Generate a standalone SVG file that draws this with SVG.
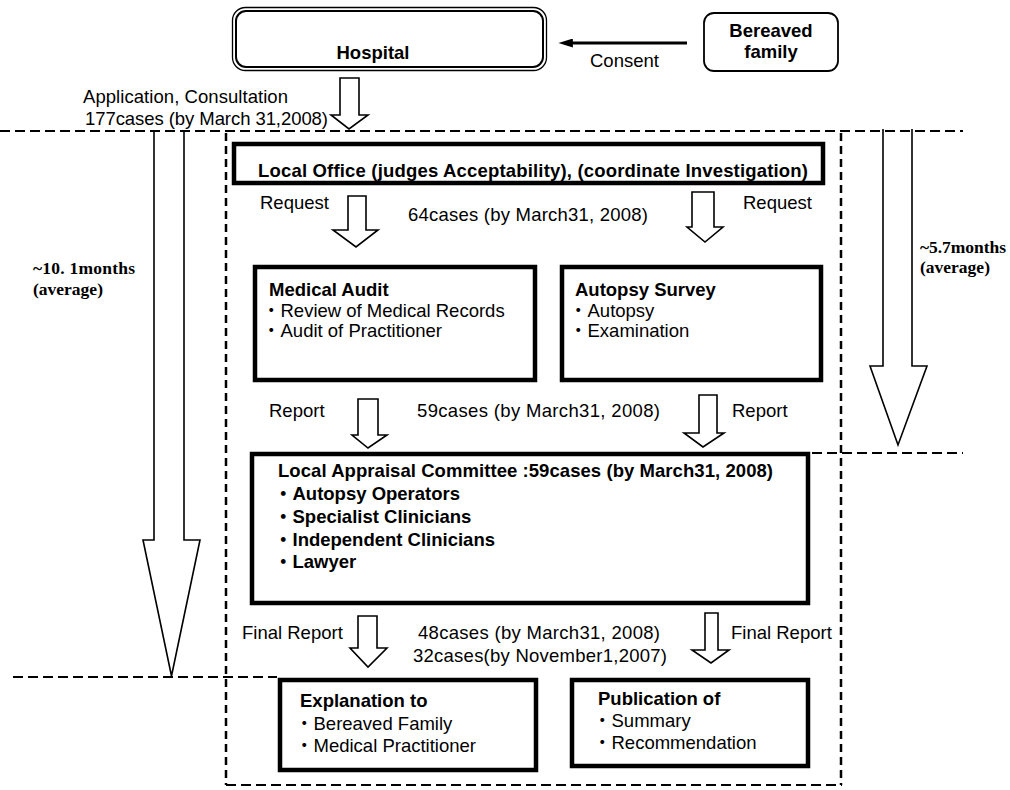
<svg xmlns="http://www.w3.org/2000/svg" width="1010" height="790" viewBox="0 0 1010 790">
  <defs>
    <marker id="head-left" viewBox="0 0 16 10" refX="1" refY="5" markerWidth="16" markerHeight="9" markerUnits="userSpaceOnUse" orient="auto">
      <path d="M16,5 L0,0 L0,10 Z" fill="#000"/>
    </marker>
    <style>
      .t { font-family: "Liberation Sans", "Noto Sans CJK JP", Arial, sans-serif; font-size: 18.5px; fill: #000; }
      .b { font-weight: bold; }
      .serif { font-family: "Liberation Serif", "Times New Roman", serif; font-size: 17.5px; font-weight: bold; fill: #000; }
      .box { fill: #fff; stroke: #000; stroke-width: 4.5; }
      .rbox { fill: #fff; stroke: #000; stroke-width: 1.8; }
      .hollow { fill: #fff; stroke: #000; stroke-width: 1.6; stroke-linejoin: miter; }
      .dash-h { fill: none; stroke: #000; stroke-width: 2; stroke-dasharray: 10 5; }
      .dash-v { fill: none; stroke: #000; stroke-width: 2.5; stroke-dasharray: 8 5; }
    </style>
  </defs>

  <rect width="1010" height="790" fill="#fff"/>

  <!-- connectors: block arrows, consent arrow, dashed frames -->
  <g id="connectors">
    <!-- time-span arrows -->
    <path class="hollow" d="M154,131 V540 H143 L171.5,676 L200,540 H184 V131"/>
    <path class="hollow" d="M883,129 V366 H870 L898,445 L927,366 H912 V129"/>

    <!-- dashed guide lines and frame -->
    <line class="dash-h" x1="0" y1="131" x2="963" y2="131"/>
    <line class="dash-h" x1="812" y1="453" x2="963" y2="453"/>
    <line class="dash-h" x1="13" y1="677" x2="277" y2="677"/>
    <line class="dash-v" x1="226" y1="133" x2="226" y2="785"/>
    <line class="dash-v" x1="841" y1="133" x2="841" y2="785"/>
    <line class="dash-h" x1="226" y1="785" x2="842" y2="785"/>

    <!-- consent -->
    <line x1="687" y1="43" x2="572" y2="43" stroke="#000" stroke-width="2.8" marker-end="url(#head-left)"/>

    <!-- flow arrows -->
    <path class="hollow" d="M340,78 H359 V115 H368 L349,129 L331,115 H340 Z"/>
    <path class="hollow" d="M348,196 H366 V230 H378 L356,247 L333,230 H348 Z"/>
    <path class="hollow" d="M692,192 H714 V227 H723 L705,242 L687,227 H692 Z"/>
    <path class="hollow" d="M358,399 H378 V435 H387 L368,448 L352,435 H358 Z"/>
    <path class="hollow" d="M699,395 H717 V433 H724 L703,447 L684,433 H699 Z"/>
    <path class="hollow" d="M358,616 H377 V648 H387 L368,667 L350,648 H358 Z"/>
    <path class="hollow" d="M705,613 H718 V650 H729 L711,663 L692,650 H705 Z"/>

    <!-- arrow labels -->
    <text class="t" x="590" y="67">Consent</text>
    <text class="t" x="83" y="103" textLength="205">Application, Consultation</text>
    <text class="t" x="85" y="125" textLength="243">177cases (by March 31,2008)</text>
    <text class="t" x="260" y="209">Request</text>
    <text class="t" x="743" y="209">Request</text>
    <text class="t" x="408" y="221" textLength="240">64cases (by March31, 2008)</text>
    <text class="t" x="269" y="417">Report</text>
    <text class="t" x="417" y="417" textLength="243">59cases (by March31, 2008)</text>
    <text class="t" x="732" y="417">Report</text>
    <text class="t" x="242" y="639">Final Report</text>
    <text class="t" x="418" y="639" textLength="242">48cases (by March31, 2008)</text>
    <text class="t" x="413" y="662" textLength="254">32cases(by November1,2007)</text>
    <text class="t" x="731" y="639">Final Report</text>

    <!-- durations -->
    <text class="serif" x="33" y="274" textLength="102">~10. 1months</text>
    <text class="serif" x="33" y="295">(average)</text>
    <text class="serif" x="920" y="253" textLength="86">~5.7months</text>
    <text class="serif" x="920" y="273">(average)</text>
  </g>

  <g id="hospital">
    <rect x="232.5" y="7.5" width="314" height="63" rx="13" fill="#fff" stroke="#000" stroke-width="1.3"/>
    <rect x="236" y="11" width="307" height="56" rx="10" fill="none" stroke="#000" stroke-width="2"/>
    <text class="t b" x="373" y="59" text-anchor="middle">Hospital</text>
  </g>

  <g id="bereaved-family">
    <rect class="rbox" x="704" y="13" width="134" height="58" rx="10"/>
    <text class="t b" x="771" y="37" text-anchor="middle">Bereaved</text>
    <text class="t b" x="771" y="58" text-anchor="middle">family</text>
  </g>

  <g id="local-office">
    <rect class="box" x="234" y="144" width="589" height="39"/>
    <text class="t b" x="258" y="177" textLength="550">Local Office (judges Acceptability), (coordinate Investigation)</text>
  </g>

  <g id="medical-audit">
    <rect class="box" x="255" y="267" width="280" height="113"/>
    <text class="t b" x="269" y="296">Medical Audit</text>
    <text class="t" x="262" y="317">・Review of Medical Records</text>
    <text class="t" x="262" y="337">・Audit of Practitioner</text>
  </g>

  <g id="autopsy-survey">
    <rect class="box" x="562" y="267" width="259" height="113"/>
    <text class="t b" x="575" y="296">Autopsy Survey</text>
    <text class="t" x="569" y="317">・Autopsy</text>
    <text class="t" x="569" y="337">・Examination</text>
  </g>

  <g id="local-appraisal-committee">
    <rect class="box" x="252" y="454" width="556" height="149"/>
    <text class="t b" x="278" y="477" textLength="495">Local Appraisal Committee :59cases (by March31, 2008)</text>
    <text class="t b" x="274" y="500">・Autopsy Operators</text>
    <text class="t b" x="274" y="523">・Specialist Clinicians</text>
    <text class="t b" x="274" y="546">・Independent Clinicians</text>
    <text class="t b" x="274" y="568">・Lawyer</text>
  </g>

  <g id="explanation">
    <rect class="box" x="280" y="680" width="256" height="90"/>
    <text class="t b" x="300" y="707">Explanation to</text>
    <text class="t" x="295" y="730">・Bereaved Family</text>
    <text class="t" x="295" y="752">・Medical Practitioner</text>
  </g>

  <g id="publication">
    <rect class="box" x="572" y="680" width="236" height="86"/>
    <text class="t b" x="598" y="705">Publication of</text>
    <text class="t" x="593" y="727">・Summary</text>
    <text class="t" x="593" y="749">・Recommendation</text>
  </g>
</svg>
